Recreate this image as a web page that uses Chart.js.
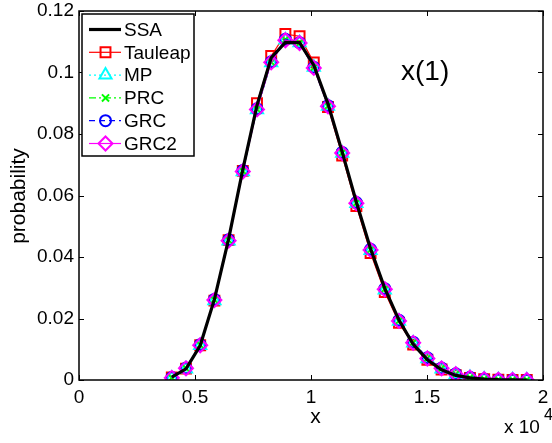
<!DOCTYPE html>
<html>
<head>
<meta charset="utf-8">
<script src="https://cdn.jsdelivr.net/npm/chart.js"></script>
<style>
  body { margin: 0; background: #fff; }
  #wrap { width: 552px; height: 443px; position: relative; }
</style>
</head>
<body>
<div id="wrap"><canvas id="myChart"></canvas></div>
<script>
// x positions (raw units, axis shows them as x 10^4)
const xVals = [4000, 4612, 5224, 5836, 6448, 7060, 7672, 8284, 8896, 9508, 10120, 10732, 11344,
               11956, 12568, 13180, 13792, 14404, 15016, 15628, 16240, 16852, 17464, 18076, 18688, 19300];

const ssa = [0.0009, 0.0036, 0.0112, 0.0262, 0.0458, 0.0684, 0.0893, 0.1048, 0.1098, 0.1097, 0.1024, 0.0898, 0.0742,
             0.0578, 0.0427, 0.0298, 0.0195, 0.0116, 0.0066, 0.0033, 0.0015, 0.0007, 0.0003, 0.0001, 0.00005, 0];
const tauleap = [0.0008, 0.0037, 0.0113, 0.0258, 0.0455, 0.0680, 0.0900, 0.1054, 0.1125, 0.1118, 0.1033, 0.0888, 0.0730,
                 0.0566, 0.0413, 0.0286, 0.0186, 0.0115, 0.0066, 0.0034, 0.0016, 0.0007, 0.0003, 0.0001, 0.00005, 0.00002];
const mp = [0.0006, 0.0036, 0.0112, 0.0258, 0.0452, 0.0677, 0.0879, 0.1032, 0.1106, 0.1097, 0.1017, 0.0890, 0.0737,
            0.0574, 0.0421, 0.0293, 0.0191, 0.0120, 0.0069, 0.0036, 0.0018, 0.0008, 0.0003, 0.0001, 0.00005, 0.00002];
const prc = [0.0007, 0.0038, 0.0114, 0.0261, 0.0455, 0.0680, 0.0881, 0.1034, 0.1107, 0.1096, 0.1016, 0.0891, 0.0739,
             0.0576, 0.0424, 0.0296, 0.0193, 0.0122, 0.0071, 0.0038, 0.0019, 0.0008, 0.0003, 0.0001, 0.00005, 0.00002];
const grc = [0.0008, 0.0039, 0.0115, 0.0262, 0.0456, 0.0681, 0.0882, 0.1035, 0.1108, 0.1097, 0.1017, 0.0892, 0.0740,
             0.0577, 0.0425, 0.0297, 0.0194, 0.0123, 0.0072, 0.0039, 0.0020, 0.0009, 0.0003, 0.0001, 0.00005, 0.00002];
const grc2 = [0.0007, 0.0038, 0.0113, 0.0260, 0.0453, 0.0678, 0.0880, 0.1033, 0.1105, 0.1096, 0.1015, 0.0890, 0.0738,
              0.0575, 0.0423, 0.0295, 0.0192, 0.0121, 0.0070, 0.0038, 0.0019, 0.0008, 0.0003, 0.0001, 0.00005, 0.00002];

const xTickLabels = ['0', '0.5', '1', '1.5', '2'];
const yTickLabels = ['0', '0.02', '0.04', '0.06', '0.08', '0.1', '0.12'];

const FONT = 'Liberation Sans, Arial, Helvetica, sans-serif';

function pts(ys) {
    return xVals.map((x, i) => ({ x: x, y: ys[i] }));
}

// matlab style: inward ticks on all 4 sides + box + text labels + legend
const matlabBox = {
    id: 'matlabBox',
    afterDraw(chart) {
        const ctx = chart.ctx;
        const a = chart.chartArea;
        const xs = chart.scales.x, ys = chart.scales.y;
        ctx.save();
        ctx.strokeStyle = '#000';
        ctx.lineWidth = 1.5;
        ctx.strokeRect(a.left, a.top, a.right - a.left, a.bottom - a.top);
        ctx.lineWidth = 1;
        ctx.beginPath();
        xs.ticks.forEach(t => {
            const px = Math.round(xs.getPixelForValue(t.value)) + 0.5;
            ctx.moveTo(px, a.bottom); ctx.lineTo(px, a.bottom - 5);
            ctx.moveTo(px, a.top); ctx.lineTo(px, a.top + 5);
        });
        ys.ticks.forEach(t => {
            const py = Math.round(ys.getPixelForValue(t.value)) + 0.5;
            ctx.moveTo(a.left, py); ctx.lineTo(a.left + 5, py);
            ctx.moveTo(a.right, py); ctx.lineTo(a.right - 5, py);
        });
        ctx.stroke();

        // axis titles and annotation
        ctx.fillStyle = '#000';
        ctx.textBaseline = 'alphabetic';
        ctx.textAlign = 'center';
        ctx.font = '21px ' + FONT;
        ctx.fillText('x', 315.5, 423);
        ctx.save();
        ctx.translate(25, 196);
        ctx.rotate(-Math.PI / 2);
        ctx.fillText('probability', 0, 0);
        ctx.restore();
        ctx.textAlign = 'left';
        ctx.font = '28px ' + FONT;
        ctx.fillText('x(1)', 401, 80);
        ctx.font = '19px ' + FONT;
        ctx.fillText('x 10', 504, 433);
        ctx.font = '16px ' + FONT;
        ctx.fillText('4', 544, 420);

        // legend
        const lx = 82, ly = 14, lw = 112, lh = 142;
        ctx.fillStyle = '#fff';
        ctx.fillRect(lx, ly, lw, lh);
        ctx.strokeStyle = '#000';
        ctx.lineWidth = 1.5;
        ctx.strokeRect(lx, ly, lw, lh);
        chart.data.datasets.forEach((ds, i) => {
            const y = 29.5 + i * 22.8;
            ctx.save();
            ctx.strokeStyle = ds.borderColor;
            ctx.lineWidth = ds.borderWidth;
            ctx.setLineDash(ds.borderDash || []);
            ctx.beginPath();
            ctx.moveTo(89, y); ctx.lineTo(121, y);
            ctx.stroke();
            ctx.setLineDash([]);
            if (ds.pointRadius > 0) {
                ctx.fillStyle = 'rgba(0,0,0,0)';
                ctx.strokeStyle = ds.borderColor;
                ctx.lineWidth = ds.pointBorderWidth;
                Chart.helpers.drawPoint(ctx, {
                    pointStyle: ds.pointStyle,
                    radius: ds.pointRadius,
                    rotation: 0,
                    borderWidth: ds.pointBorderWidth
                }, 105.5, y);
            }
            ctx.restore();
            ctx.fillStyle = '#000';
            ctx.font = '19px ' + FONT;
            ctx.textBaseline = 'middle';
            ctx.textAlign = 'left';
            ctx.fillText(ds.label, 124, y + 1);
        });
        ctx.restore();
    }
};

const ctx = document.getElementById('myChart').getContext('2d');
new Chart(ctx, {
    type: 'line',
    data: {
        datasets: [
            { label: 'SSA', data: pts(ssa), borderColor: '#000', borderWidth: 3.2, pointRadius: 0, order: 0 },
            { label: 'Tauleap', data: pts(tauleap), borderColor: '#ff0000', borderWidth: 1.2, pointStyle: 'rect',
              pointRadius: 7, pointBorderWidth: 2, order: 5 },
            { label: 'MP', data: pts(mp), borderColor: '#00ffff', borderWidth: 1.2, borderDash: [2, 3], pointStyle: 'triangle',
              pointRadius: 7, pointBorderWidth: 2, order: 4 },
            { label: 'PRC', data: pts(prc), borderColor: '#00ff00', borderWidth: 1.2, borderDash: [7, 3, 2, 3], pointStyle: 'crossRot',
              pointRadius: 5, pointBorderWidth: 2, order: 3 },
            { label: 'GRC', data: pts(grc), borderColor: '#0000ff', borderWidth: 1.2, borderDash: [6, 4], pointStyle: 'circle',
              pointRadius: 5.5, pointBorderWidth: 2, order: 2 },
            { label: 'GRC2', data: pts(grc2), borderColor: '#ff00ff', borderWidth: 1.2, pointStyle: 'rectRot',
              pointRadius: 7, pointBorderWidth: 2, order: 1 }
        ].map(d => Object.assign({ backgroundColor: 'rgba(0,0,0,0)', pointBackgroundColor: 'rgba(0,0,0,0)', fill: false, tension: 0 }, d))
    },
    options: {
        responsive: true,
        maintainAspectRatio: false,
        animation: false,
        layout: { padding: { top: 11, right: 1, left: 0, bottom: 0 } },
        plugins: { legend: { display: false }, tooltip: { enabled: false } },
        scales: {
            x: {
                type: 'linear',
                min: 0, max: 20000,
                grid: { display: false, drawTicks: false },
                border: { display: false },
                ticks: {
                    stepSize: 5000,
                    padding: 6,
                    color: '#000',
                    font: { size: 19, family: FONT },
                    maxRotation: 0,
                    callback: (v, i) => xTickLabels[i]
                },
                afterFit: s => { s.height = 63; s.paddingLeft = 0; s.paddingRight = 0; }
            },
            y: {
                min: 0, max: 0.12,
                grid: { display: false, drawTicks: false },
                border: { display: false },
                ticks: {
                    stepSize: 0.02,
                    padding: 5,
                    color: '#000',
                    font: { size: 19, family: FONT },
                    callback: (v, i) => yTickLabels[i]
                },
                afterFit: s => { s.width = 79; s.paddingTop = 0; s.paddingBottom = 0; }
            }
        }
    },
    plugins: [matlabBox]
});
</script>
</body>
</html>
